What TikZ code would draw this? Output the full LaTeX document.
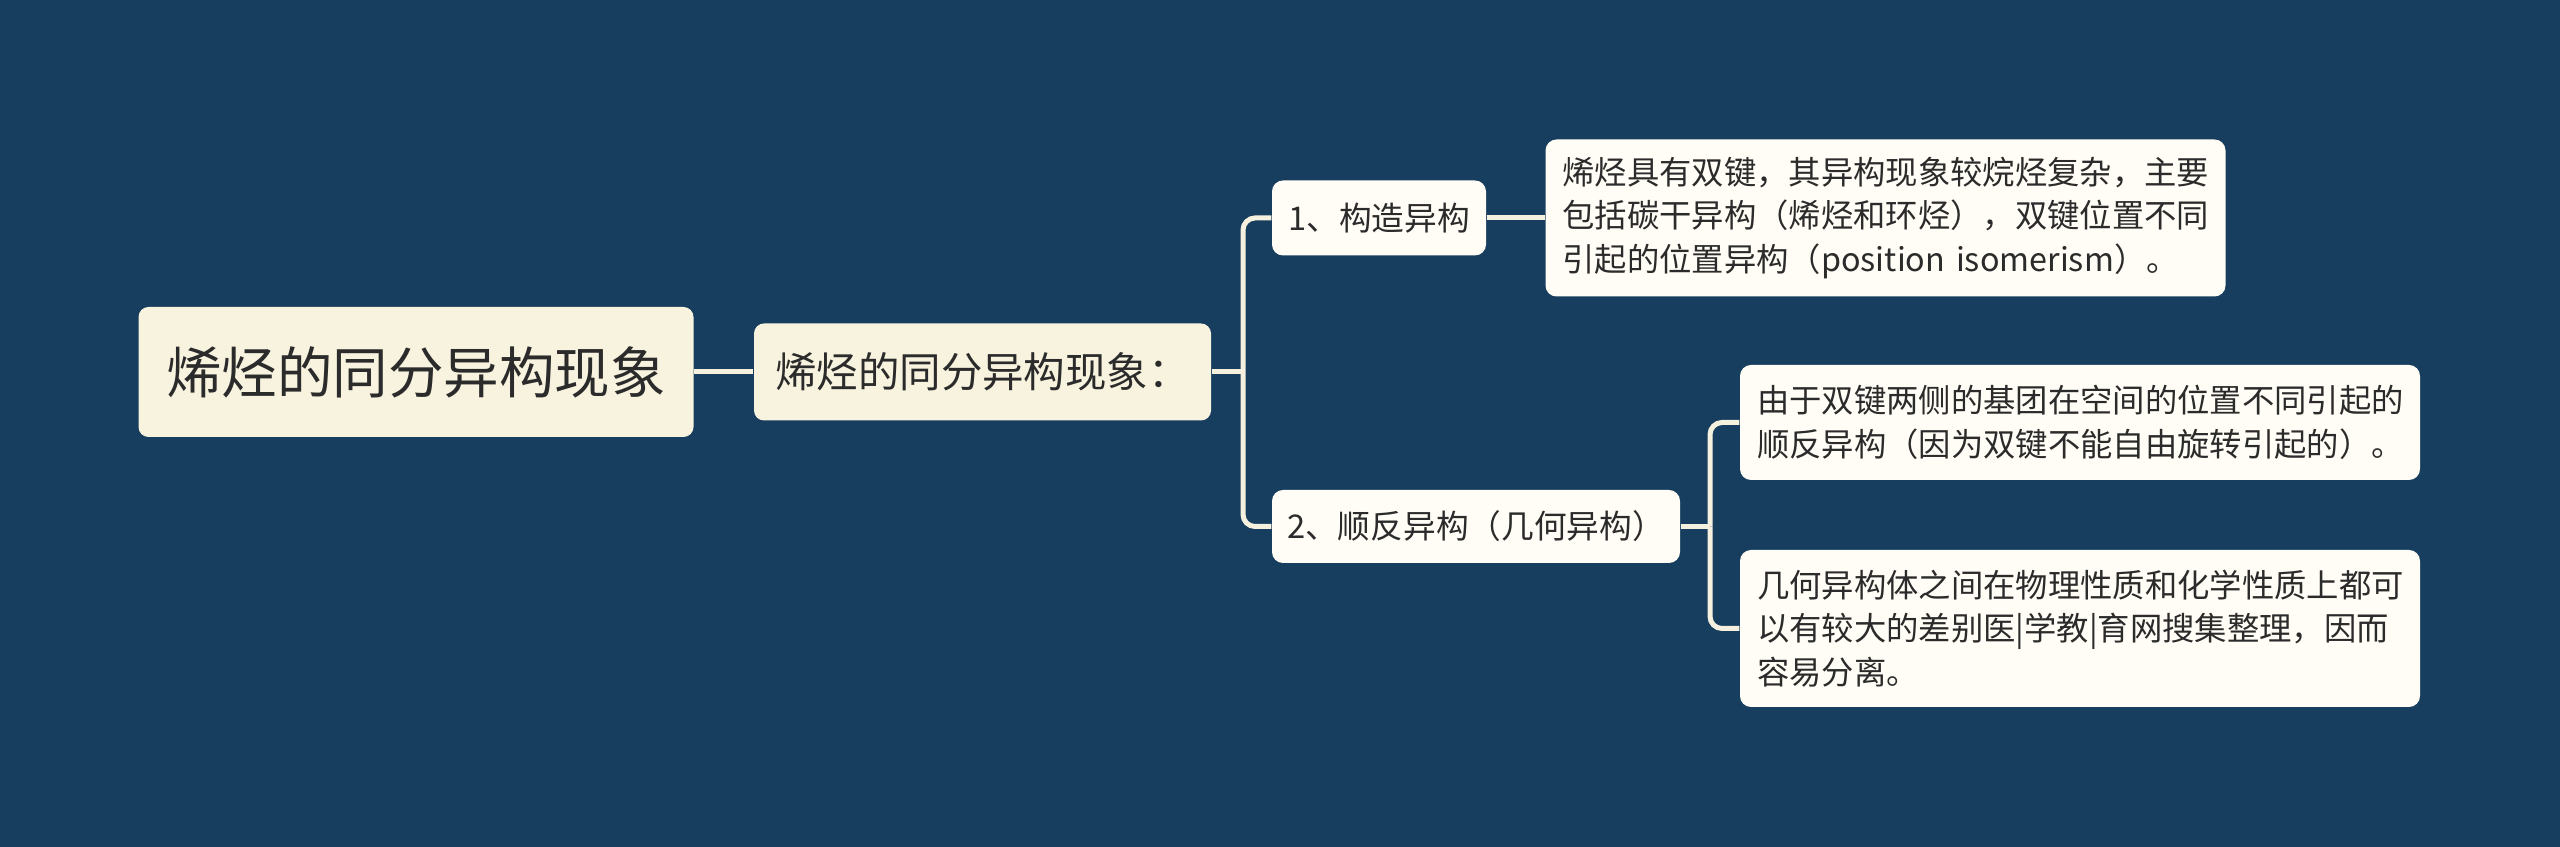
\documentclass[tikz,border=0pt]{standalone}
\usepackage{fontspec}
\setmainfont{Noto Sans CJK SC}
\definecolor{bgblue}{HTML}{173E5E}
\definecolor{rootfill}{HTML}{F8F3DF}
\definecolor{leaffill}{HTML}{FFFDF5}
\definecolor{linkcol}{HTML}{F6F1DE}
\definecolor{txtcol}{HTML}{2B2B2B}
\tikzset{
	topic/.style={rectangle, rounded corners=0.1cm, fill=rootfill, text=txtcol, inner sep=0pt},
	subtopic/.style={rectangle, rounded corners=0.11cm, fill=leaffill, text=txtcol, inner sep=0pt},
	leafbox/.style={subtopic, align=left, text width=6.46cm, inner xsep=0.17cm, font=\fontsize{9.2}{12.4}\selectfont},
	link/.style={draw=linkcol, line width=0.05cm},
}
\begin{document}
\begin{tikzpicture}
		\fill[bgblue] (0,0) rectangle (25.6,-8.47);
	
		\node[topic, minimum width=5.55cm, minimum height=1.3cm, font=\fontsize{15.8}{19}\selectfont] (root) at (4.16,-3.72) {烯烃的同分异构现象};
		\node[topic, minimum width=4.57cm, minimum height=0.97cm, font=\fontsize{11.8}{14}\selectfont] (main) at (9.825,-3.72) {烯烃的同分异构现象：};
	
		\node[subtopic, minimum width=2.14cm, minimum height=0.75cm, font=\fontsize{9.3}{12}\selectfont] (struct) at (13.79,-2.18) {1、构造异构};
		\node[subtopic, minimum width=4.08cm, minimum height=0.73cm, font=\fontsize{9.3}{12}\selectfont] (cistrans) at (14.76,-5.265) {2、顺反异构（几何异构）};
	
		\node[leafbox, minimum height=1.57cm] (leafa) at (18.855,-2.18) {烯烃具有双键，其异构现象较烷烃复杂，主要\\包括碳干异构（烯烃和环烃），双键位置不同\\引起的位置异构（position isomerism）。};
		\node[leafbox, minimum height=1.15cm] (leafb) at (20.8,-4.225) {由于双键两侧的基团在空间的位置不同引起的\\顺反异构（因为双键不能自由旋转引起的）。};
		\node[leafbox, minimum height=1.57cm] (leafc) at (20.8,-6.285) {几何异构体之间在物理性质和化学性质上都可\\以有较大的差别医|学教|育网搜集整理，因而\\容易分离。};
	
		\coordinate (forka) at (12.43,-3.72);
		\coordinate (forkb) at (17.1,-5.265);
	
		\draw[link] (root) -- (main);
		\draw[link] (main.east) -- (forka);
		\draw[link, rounded corners=0.12cm] (forka) |- (struct.west);
		\draw[link, rounded corners=0.12cm] (forka) |- (cistrans.west);
	
		\draw[link] (struct) -- (leafa);
		\draw[link] (cistrans.east) -- (forkb);
		\draw[link, rounded corners=0.12cm] (forkb) |- (leafb.west);
		\draw[link, rounded corners=0.12cm] (forkb) |- (leafc.west);
	\end{tikzpicture}
\end{document}
